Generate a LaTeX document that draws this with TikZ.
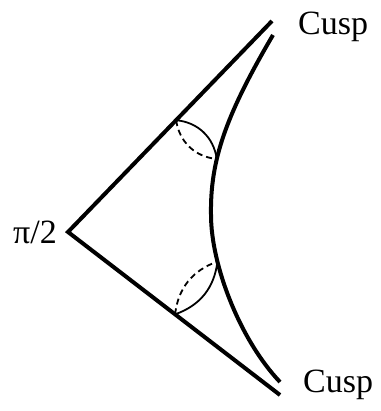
\documentclass[tikz,border=0pt]{standalone}
\usepackage{fontspec}
\setmainfont{Liberation Serif}
\usepackage{tikz}
\usetikzlibrary{calc}
\tikzstyle{side} = [line width=4pt, line join=miter]
\tikzstyle{angarc} = [line width=1.8pt]
\tikzstyle{angdash} = [line width=1.8pt, dash pattern=on 6pt off 4pt]
\tikzstyle{tag} = [inner sep=0pt, anchor=base west, font=\fontsize{34}{40}\selectfont]

\begin{document}
\begin{tikzpicture}[x=1pt, y=1pt]
\useasboundingbox (0,0) rectangle (380,411);

% Corners
\coordinate (apex) at (68,179);
\coordinate (topend) at (272,390);
\coordinate (botend) at (280,16);
\coordinate (horotop) at (273,376);
\coordinate (horomid) at (211,196);
\coordinate (horobot) at (280,29);

% Straight sides
\draw [side] (topend) -- (apex) -- (botend);

% Curved side
\draw [side] (horotop) .. controls (226,296) and (210,251) .. (horomid) coordinate[pos=0.65] (meetup)
  .. controls (211,146) and (240,71) .. (horobot) coordinate[pos=0.28] (meetdown);

% Angle arcs
\coordinate (legup) at ($(apex)!0.53!(topend)$);
\coordinate (legdown) at ($(apex)!0.505!(botend)$);
\draw [angarc] (legup) to[bend left=38] (meetup);
\draw [angdash] (legup) to[bend right=38] (meetup);
\draw [angarc] (legdown) to[bend right=32] (meetdown);
\draw [angdash] (legdown) to[bend left=32] (meetdown);

% Labels
\node (cusptop) [tag] at (298,376) {Cusp};
\node (cuspbot) [tag] at (303,18) {Cusp};
\node (rightangle) [tag] at (13,167) {π/2};

\end{tikzpicture}
\end{document}
